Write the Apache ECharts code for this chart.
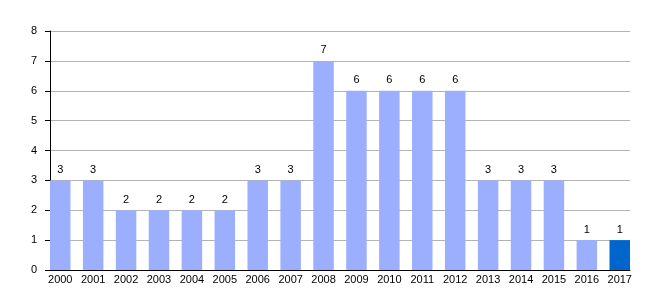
<!DOCTYPE html>
<html>
<head>
<meta charset="utf-8">
<script src="https://cdn.jsdelivr.net/npm/echarts@6/dist/echarts.min.js"></script>
<style>html,body{margin:0;padding:0;background:#fff}#c{width:660px;height:300px}</style>
</head>
<body>
<div id="c"></div>
<script>
var categories = ['2000','2001','2002','2003','2004','2005','2006','2007','2008','2009','2010','2011','2012','2013','2014','2015','2016','2017'];
var values = [3,3,2,2,2,2,3,3,7,6,6,6,6,3,3,3,1,1];
var yTicks = [0,1,2,3,4,5,6,7,8];

var lightColor = '#9cafff';
var darkColor = '#0066cc';
var font = 'Liberation Sans, Arial, sans-serif';

var chart = echarts.init(document.getElementById('c'), null, {renderer:'canvas'});
var data = values.map(function(v, i){
  return {value: v, itemStyle: {color: i === values.length - 1 ? darkColor : lightColor}};
});
chart.setOption({
  animation: false,
  grid: [
    {left: 50, right: 30, top: 31, bottom: 30},
    {left: 43.8, width: 592.4, top: 31, bottom: 30}
  ],
  xAxis: [
    {gridIndex: 0, type: 'value', min: 0, max: 1, axisLabel: {show: false}, axisTick: {show: false}, splitLine: {show: false},
     axisLine: {show: true, lineStyle: {color: '#000', width: 1}}},
    {gridIndex: 1, type: 'category', data: categories, axisLine: {show: false}, axisTick: {show: false},
     axisLabel: {color: '#000', fontSize: 11, fontFamily: font, margin: 4, interval: 0}}
  ],
  yAxis: [
    {gridIndex: 0, type: 'value', min: yTicks[0], max: yTicks[yTicks.length-1], interval: 1,
     axisLine: {show: true, lineStyle: {color: '#000', width: 1}},
     axisTick: {show: true, inside: false, length: 5, lineStyle: {color: '#000'}},
     axisLabel: {color: '#000', fontSize: 11, fontFamily: font, margin: 13},
     splitLine: {show: true, lineStyle: {color: '#b3b3b3', width: 1}}},
    {gridIndex: 1, type: 'value', min: yTicks[0], max: yTicks[yTicks.length-1], interval: 1,
     axisLine: {show: false}, axisTick: {show: false}, axisLabel: {show: false}, splitLine: {show: false}}
  ],
  series: [{
    type: 'bar', xAxisIndex: 1, yAxisIndex: 1, data: data, barWidth: 20.5,
    label: {show: true, position: 'top', distance: 5, color: '#000', fontSize: 11, fontFamily: font}
  }]
});
</script>
</body>
</html>
